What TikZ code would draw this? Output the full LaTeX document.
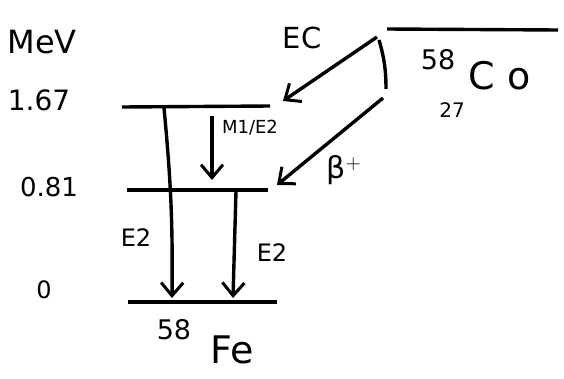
\documentclass[tikz,border=0pt]{standalone}
\usepackage{fontspec}
\setmainfont{DejaVu Sans}
\usetikzlibrary{arrows.meta}
\newcommand{\fs}[1]{\fontsize{#1}{#1}\selectfont}
\begin{document}
\begin{tikzpicture}[x=1pt,y=-1pt,
  level/.style={line width=3.4pt},
  trans/.style={line width=3.4pt,-{Straight Barb[length=13pt,width=22pt,line width=3pt]}},
  lbl/.style={inner sep=0pt}]
\useasboundingbox (0,0) rectangle (564,378);
% energy labels
\node[lbl,font=\fs{32}] (mev) at (42,42) {MeV};
\node[lbl,font=\fs{28}] (e1) at (39,100) {1.67};
\node[lbl,font=\fs{26}] (e2) at (49,187) {0.81};
\node[lbl,font=\fs{24}] (e0) at (44,290) {0};
% levels
\coordinate (l1a) at (122,107); \coordinate (l1b) at (270,106);
\coordinate (l2a) at (127,190); \coordinate (l2b) at (268,190);
\coordinate (l0a) at (128,302); \coordinate (l0b) at (277,302);
\coordinate (coa) at (387,29); \coordinate (cob) at (558,30);
\draw[level] (l1a) -- (l1b);
\draw[level] (l2a) -- (l2b);
\draw[level] (l0a) -- (l0b);
\draw[level] (coa) -- (cob);
% nuclide labels
\node[lbl,font=\fs{27}] (co58) at (438,60) {58};
\node[lbl,font=\fs{38}] (co) at (500,76) {C\,\,o};
\node[lbl,font=\fs{20}] (co27) at (452,110) {27};
\node[lbl,font=\fs{27}] (fe58) at (174,330) {58};
\node[lbl,font=\fs{38}] (fe) at (232,350) {Fe};
% decay branches
\coordinate (ecs) at (377,37); \coordinate (ece) at (283,101);
\coordinate (bps) at (383,98); \coordinate (bpe) at (277,185);
\draw[trans] (ecs) -- (ece);
\draw[trans] (bps) -- (bpe);
\coordinate (bra) at (379,40); \coordinate (brb) at (386,89);
\draw[line width=3.4pt] (bra) to[bend left=8] (brb);
\node[lbl,font=\fs{29}] (ec) at (302,38) {EC};
\node[lbl,font=\fs{30}] (bp) at (344,170) {β$^+$};
% gamma transitions
\coordinate (g1s) at (212,116); \coordinate (g1e) at (212,180);
\coordinate (g2s) at (164,108); \coordinate (g2e) at (172,298);
\coordinate (g3s) at (236,191); \coordinate (g3e) at (233,298);
\draw[trans] (g1s) -- (g1e);
\draw[trans] (g2s) to[bend left=3] (g2e);
\draw[trans] (g3s) -- (g3e);
\node[lbl,font=\fs{18}] (m1) at (250,128) {M1/E2};
\node[lbl,font=\fs{24}] (e2a) at (136,238) {E2};
\node[lbl,font=\fs{24}] (e2b) at (272,253) {E2};
\end{tikzpicture}
\end{document}
